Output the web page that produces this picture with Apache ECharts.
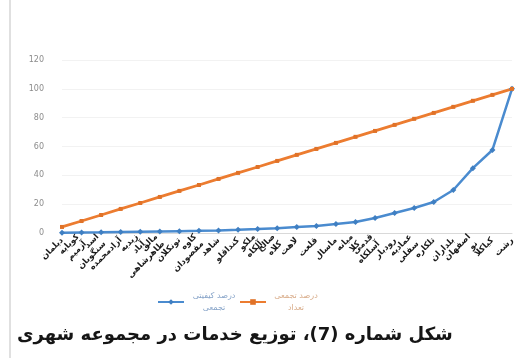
<!DOCTYPE html>
<html>
<head>
<meta charset="utf-8">
<script src="https://cdn.jsdelivr.net/npm/echarts@6/dist/echarts.min.js"></script>
<style>
  html, body { margin: 0; padding: 0; background: #fff; }
  #chart { width: 528px; height: 358px; }
</style>
</head>
<body>
<div id="chart"></div>
<script>
// Settlements of the urban complex, ordered by share of services
const settlements = [
  'دیلمان', 'کوپایه\nآزمیم', 'اسد\nسنگوبان', 'آزادمحمده', 'زیدیه\nآباد', 'مالق\nطاهرشاهی',
  'تونکلان', 'کاوه\nمقصودان', 'شاهد', 'کنداقلو', 'ملکو\nآلکاه', 'صالح\nکلاه',
  'لاهت', 'قلعت', 'ماسال', 'میانه\nکلا', 'قدمی\nآسلکاه', 'رودبار',
  'عمادیه\nسفلی', 'تلکاره', 'بلداران', 'اصفهان\nنو', 'کیاکلا', 'رشت'
];

// Cumulative share of services (%)
const servicesCumulative = [
  0.2, 0.4, 0.5, 0.7, 0.9, 1.1, 1.3, 1.5, 1.8, 2.2, 2.7, 3.3,
  4.1, 4.9, 6.2, 7.6, 10.4, 13.9, 17.3, 21.5, 29.8, 45, 57.6, 100
];

// Cumulative share of settlements (%)
const settlementsCumulative = [
  4.2, 8.3, 12.5, 16.7, 20.8, 25, 29.2, 33.3, 37.5, 41.7, 45.8, 50,
  54.2, 58.3, 62.5, 66.7, 70.8, 75, 79.2, 83.3, 87.5, 91.7, 95.8, 100
];

const yTicks = { min: 0, max: 120, step: 20 };

const seriesNames = ['درصد کیفیتی\nتجمعی', 'درصد تجمعی\nتعداد'];
const captionText = 'شکل شماره (7)، توزیع خدمات در مجموعه شهری';

const FONT = 'DejaVu Sans';
const chart = echarts.init(document.getElementById('chart'), null, { renderer: 'canvas' });

chart.setOption({
  backgroundColor: '#ffffff',
  animation: false,
  title: {
    text: captionText,
    left: 12,
    top: 321,
    textStyle: { fontFamily: FONT, fontSize: 18, fontWeight: 'bold', color: '#151515' }
  },
  graphic: [{
    type: 'line',
    shape: { x1: 10, y1: 0, x2: 10, y2: 358 },
    style: { stroke: '#d6d6d6', lineWidth: 1.5 }
  }],
  legend: {
    left: 152,
    top: 287,
    itemWidth: 26,
    itemHeight: 7,
    itemGap: 0,
    data: [
      { name: seriesNames[0], textStyle: { color: '#86a3c8' } },
      { name: seriesNames[1], textStyle: { color: '#d8ab88' } }
    ],
    formatter: function (name) {
      const parts = name.split('\n');
      return '{a|' + parts[0] + '}\n{a|' + parts[1] + '}';
    },
    textStyle: {
      fontFamily: FONT,
      fontSize: 8,
      rich: { a: { width: 50, align: 'center', fontFamily: FONT, fontSize: 8, lineHeight: 12 } }
    }
  },
  grid: { left: 62, right: 16, top: 60, bottom: 125 },
  xAxis: {
    type: 'category',
    data: settlements,
    boundaryGap: false,
    axisLine: { show: true, lineStyle: { color: '#d9d9d9' } },
    axisTick: { show: false },
    axisLabel: {
      interval: 0,
      rotate: 45,
      margin: 6,
      fontFamily: FONT,
      fontSize: 8.5,
      fontWeight: 'bold',
      lineHeight: 10,
      color: '#1a1a1a'
    }
  },
  yAxis: {
    type: 'value',
    min: yTicks.min,
    max: yTicks.max,
    interval: yTicks.step,
    axisLine: { show: false },
    axisTick: { show: false },
    splitLine: { lineStyle: { color: '#f2f2f2' } },
    axisLabel: { margin: 18, fontFamily: FONT, fontSize: 8, color: '#8c8c8c' }
  },
  series: [
    {
      name: seriesNames[0],
      type: 'line',
      data: servicesCumulative,
      symbol: 'diamond',
      symbolSize: 6,
      lineStyle: { color: '#4a8bcf', width: 2.5 },
      itemStyle: { color: '#3f7fc2' }
    },
    {
      name: seriesNames[1],
      type: 'line',
      data: settlementsCumulative,
      symbol: 'rect',
      symbolSize: 4,
      lineStyle: { color: '#ec7c30', width: 2.8 },
      itemStyle: { color: '#e07228' }
    }
  ]
});
</script>
</body>
</html>
